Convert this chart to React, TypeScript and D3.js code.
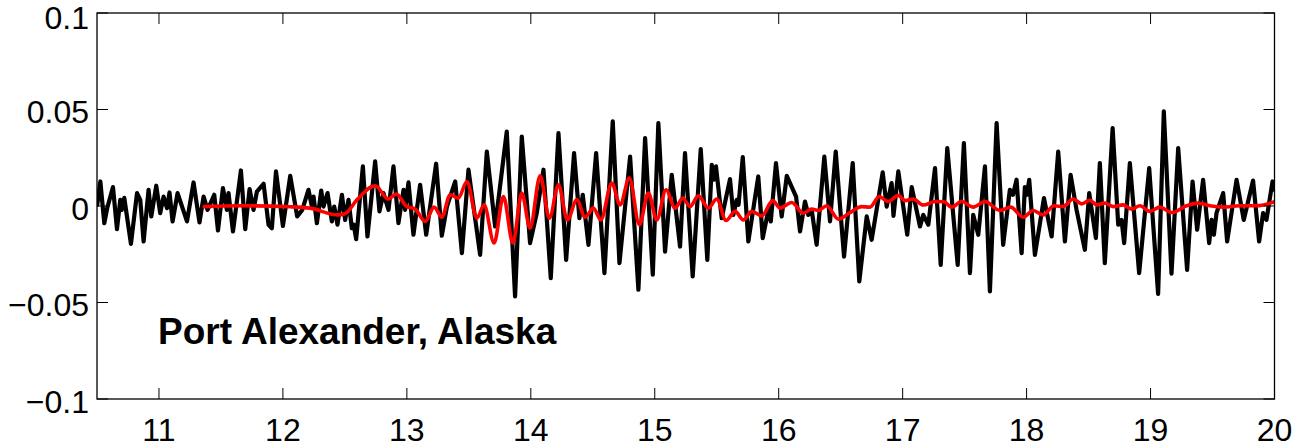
import React from "react";
import * as d3 from "d3";

// Time (hours) and sea-level residual (m) — observed record (black)
const obsTime = [
  10.502, 10.527, 10.559, 10.583, 10.629, 10.661, 10.688, 10.700, 10.720, 10.774,
  10.823, 10.849, 10.876, 10.916, 10.938, 10.978, 11.010, 11.037, 11.065, 11.085,
  11.110, 11.150, 11.226, 11.279, 11.327, 11.360, 11.392, 11.446, 11.476, 11.516,
  11.548, 11.561, 11.597, 11.661, 11.696, 11.731, 11.763, 11.790, 11.844, 11.884,
  11.911, 11.944, 12.000, 12.059, 12.115, 12.156, 12.206, 12.234, 12.247, 12.274,
  12.309, 12.327, 12.360, 12.395, 12.414, 12.440, 12.476, 12.502, 12.529, 12.556,
  12.571, 12.591, 12.645, 12.682, 12.744, 12.779, 12.811, 12.852, 12.892, 12.932,
  12.973, 12.986, 13.013, 13.053, 13.107, 13.156, 13.236, 13.282, 13.323, 13.390,
  13.444, 13.497, 13.591, 13.645, 13.712, 13.806, 13.873, 13.927, 13.994, 14.048,
  14.102, 14.161, 14.223, 14.285, 14.349, 14.392, 14.419, 14.465, 14.527, 14.594,
  14.661, 14.715, 14.801, 14.868, 14.922, 14.984, 15.029, 15.083, 15.137, 15.204,
  15.244, 15.306, 15.371, 15.424, 15.460, 15.474, 15.494, 15.540, 15.607, 15.634,
  15.661, 15.676, 15.710, 15.755, 15.835, 15.871, 15.922, 15.936, 15.978, 16.024,
  16.065, 16.140, 16.172, 16.212, 16.239, 16.266, 16.306, 16.368, 16.414, 16.460,
  16.527, 16.597, 16.650, 16.710, 16.750, 16.839, 16.871, 16.911, 16.926, 16.965,
  17.037, 17.073, 17.140, 17.166, 17.207, 17.261, 17.307, 17.360, 17.444, 17.494,
  17.543, 17.569, 17.610, 17.664, 17.704, 17.758, 17.811, 17.865, 17.890, 17.919,
  17.960, 17.986, 18.002, 18.021, 18.067, 18.140, 18.202, 18.255, 18.309, 18.355,
  18.403, 18.470, 18.505, 18.559, 18.591, 18.631, 18.694, 18.739, 18.766, 18.787,
  18.833, 18.908, 18.989, 19.061, 19.107, 19.169, 19.223, 19.295, 19.339, 19.376,
  19.424, 19.473, 19.492, 19.511, 19.532, 19.586, 19.618, 19.694, 19.752, 19.827,
  19.876, 19.908, 19.935, 19.984, 20.0,
];
const obsValue = [
  0.0006, 0.0127, -0.0089, -0.0009, 0.0098, -0.0120, 0.0032, -0.0020, 0.0042, -0.0196,
  0.0067, 0.0032, -0.0184, 0.0084, -0.0054, 0.0105, -0.0037, 0.0049, -0.0011, 0.0070,
  -0.0080, 0.0067, -0.0080, 0.0122, -0.0085, 0.0049, -0.0020, 0.0058, -0.0127, 0.0093,
  -0.0020, 0.0067, -0.0132, 0.0184, -0.0120, 0.0088, -0.0020, 0.0075, 0.0115, -0.0097,
  -0.0115, 0.0179, -0.0103, 0.0156, -0.0054, -0.0020, 0.0084, -0.0003, 0.0049, -0.0089,
  0.0080, -0.0003, 0.0067, -0.0080, -0.0003, -0.0097, 0.0058, -0.0072, 0.0032, -0.0115,
  -0.0097, -0.0172, 0.0205, -0.0158, 0.0231, -0.0028, 0.0067, -0.0020, 0.0205, -0.0089,
  0.0084, -0.0020, 0.0122, -0.0149, 0.0110, -0.0149, 0.0219, -0.0154, -0.0003, 0.0127,
  -0.0244, 0.0188, -0.0253, 0.0282, -0.0106, 0.0386, -0.0469, 0.0360, -0.0192, -0.0037,
  0.0188, -0.0374, 0.0378, -0.0279, 0.0274, -0.0063, 0.0058, -0.0201, 0.0274, -0.0348,
  0.0438, -0.0296, 0.0256, -0.0434, 0.0352, -0.0356, 0.0430, -0.0236, 0.0162, -0.0210,
  0.0274, -0.0365, 0.0295, -0.0279, 0.0213, 0.0136, 0.0205, -0.0063, 0.0139, -0.0046,
  0.0032, 0.0006, 0.0253, -0.0184, 0.0153, -0.0166, -0.0003, -0.0080, 0.0222, -0.0054,
  0.0156, 0.0049, -0.0132, 0.0023, -0.0046, -0.0020, -0.0201, 0.0256, -0.0080, 0.0282,
  -0.0262, 0.0222, -0.0391, -0.0054, -0.0175, 0.0174, -0.0003, 0.0119, -0.0051, 0.0179,
  -0.0149, 0.0098, -0.0106, -0.0046, -0.0097, 0.0196, -0.0305, 0.0300, -0.0305, 0.0326,
  -0.0348, -0.0046, -0.0149, 0.0205, -0.0443, 0.0430, -0.0201, 0.0084, 0.0058, 0.0136,
  -0.0244, 0.0098, 0.0058, 0.0136, -0.0253, 0.0041, -0.0158, 0.0282, -0.0184, 0.0162,
  -0.0020, -0.0227, 0.0067, -0.0166, 0.0222, -0.0296, 0.0404, -0.0097, -0.0072, -0.0192,
  0.0222, -0.0348, 0.0196, -0.0455, 0.0490, -0.0351, 0.0300, -0.0331, 0.0127, -0.0123,
  0.0136, -0.0192, -0.0072, -0.0149, -0.0037, 0.0067, -0.0184, 0.0136, -0.0072, 0.0132,
  -0.0184, -0.0037, -0.0072, 0.0127, 0.0084,
];

// Modelled record (red)
const modelTime = [
  11.365, 11.656, 12.059, 12.220, 12.435, 12.502, 12.597, 12.744, 12.852, 12.914,
  13.000, 13.067, 13.148, 13.220, 13.282, 13.349, 13.416, 13.484, 13.565, 13.623,
  13.704, 13.779, 13.855, 13.927, 13.994, 14.075, 14.150, 14.223, 14.295, 14.371,
  14.438, 14.505, 14.565, 14.653, 14.720, 14.795, 14.876, 14.948, 15.016, 15.091,
  15.164, 15.226, 15.285, 15.352, 15.432, 15.500, 15.575, 15.648, 15.715, 15.782,
  15.863, 15.952, 16.011, 16.105, 16.198, 16.266, 16.319, 16.387, 16.481, 16.575,
  16.669, 16.736, 16.811, 16.884, 16.965, 17.019, 17.086, 17.166, 17.261, 17.333,
  17.395, 17.476, 17.569, 17.664, 17.785, 17.871, 17.973, 18.053, 18.134, 18.220,
  18.295, 18.376, 18.444, 18.511, 18.565, 18.631, 18.698, 18.779, 18.847, 18.914,
  18.994, 19.075, 19.169, 19.290, 19.384, 19.478, 19.586, 19.720, 19.855, 20.0,
];
const modelValue = [
  -0.0003, 0.0001, -0.0004, -0.0011, -0.0046, -0.0040, 0.0032, 0.0105, 0.0036, 0.0062,
  -0.0003, -0.0016, -0.0080, -0.0006, -0.0058, 0.0058, 0.0041, 0.0127, -0.0063, 0.0006,
  -0.0192, 0.0049, -0.0192, 0.0067, -0.0115, 0.0156, -0.0063, 0.0110, -0.0072, 0.0032,
  -0.0058, -0.0011, -0.0072, 0.0119, 0.0006, 0.0145, -0.0097, 0.0067, -0.0072, 0.0084,
  -0.0011, 0.0041, -0.0003, 0.0053, -0.0011, 0.0036, -0.0075, -0.0028, -0.0072, -0.0028,
  -0.0051, 0.0028, -0.0011, 0.0018, -0.0037, -0.0016, -0.0023, 0.0001, -0.0068, -0.0034,
  -0.0003, -0.0006, 0.0049, 0.0023, 0.0055, 0.0028, 0.0036, 0.0005, 0.0023, 0.0022,
  -0.0006, 0.0023, -0.0006, 0.0023, -0.0023, -0.0006, -0.0058, -0.0023, -0.0046, 0.0001,
  -0.0003, 0.0036, 0.0011, 0.0030, 0.0006, 0.0015, -0.0003, 0.0006, -0.0016, 0.0001,
  -0.0028, -0.0006, -0.0034, 0.0001, 0.0015, 0.0001, -0.0006, 0.0001, 0.0001, 0.0022,
];

const xTicks = [11, 12, 13, 14, 15, 16, 17, 18, 19, 20];
const yTicks = [-0.1, -0.05, 0, 0.05, 0.1];
const yTickLabels = ["\u22120.1", "\u22120.05", "0", "0.05", "0.1"];
const stationName = "Port Alexander, Alaska";

const W = 1298;
const H = 447;
const left = 97;
const right = 1274.5;
const top = 13;
const bottom = 399;
const FONT = "'Liberation Sans', Arial, Helvetica, sans-serif";

export default function App() {
  const x = d3.scaleLinear().domain([10.5, 20]).range([left, right]);
  const y = d3.scaleLinear().domain([-0.1, 0.1]).range([bottom, top]);

  const obsLine = d3
    .line<[number, number]>()
    .x((d) => x(d[0]))
    .y((d) => y(d[1]));

  const modLine = d3
    .line<[number, number]>()
    .x((d) => x(d[0]))
    .y((d) => y(d[1]))
    .curve(d3.curveMonotoneX);

  const obs = obsTime.map((t, i) => [t, obsValue[i]] as [number, number]);
  const mod = modelTime.map((t, i) => [t, modelValue[i]] as [number, number]);
  const tickLen = 11;

  return (
    <svg
      width={W}
      height={H}
      style={{ position: "absolute", left: 0, top: 0, background: "#fff" }}
    >
      <defs>
        <clipPath id="plotClip">
          <rect x={left} y={top} width={right - left} height={bottom - top} />
        </clipPath>
      </defs>
      <rect x={0} y={0} width={W} height={H} fill="#fff" />
      <g clipPath="url(#plotClip)">
        <path
          d={obsLine(obs) || ""}
          fill="none"
          stroke="#000"
          strokeWidth={4.2}
          strokeLinejoin="round"
          strokeLinecap="round"
        />
        <path
          d={modLine(mod) || ""}
          fill="none"
          stroke="#ff0000"
          strokeWidth={3.6}
          strokeLinejoin="round"
          strokeLinecap="round"
        />
      </g>
      {/* frame */}
      <rect
        x={left}
        y={top}
        width={right - left}
        height={bottom - top}
        fill="none"
        stroke="#000"
        strokeWidth={1.3}
      />
      {/* x ticks */}
      {xTicks.map((t) => (
        <g key={"x" + t}>
          <line x1={x(t)} x2={x(t)} y1={bottom} y2={bottom - tickLen} stroke="#000" strokeWidth={1} />
          <line x1={x(t)} x2={x(t)} y1={top} y2={top + tickLen} stroke="#000" strokeWidth={1} />
          <text
            x={x(t)}
            y={441}
            textAnchor="middle"
            fontFamily={FONT}
            fontSize={32}
            fill="#000"
          >
            {t}
          </text>
        </g>
      ))}
      {/* y ticks */}
      {yTicks.map((t, i) => (
        <g key={"y" + t}>
          <line x1={left} x2={left + tickLen} y1={y(t)} y2={y(t)} stroke="#000" strokeWidth={1} />
          <line x1={right} x2={right - tickLen} y1={y(t)} y2={y(t)} stroke="#000" strokeWidth={1} />
          <text
            x={89}
            y={Math.max(y(t) + 13.8, 29)}
            textAnchor="end"
            fontFamily={FONT}
            fontSize={32}
            fill="#000"
          >
            {yTickLabels[i]}
          </text>
        </g>
      ))}
      <text
        x={158}
        y={344}
        fontFamily={FONT}
        fontWeight="bold"
        fontSize={37}
        fill="#000"
      >
        {stationName}
      </text>
    </svg>
  );
}
